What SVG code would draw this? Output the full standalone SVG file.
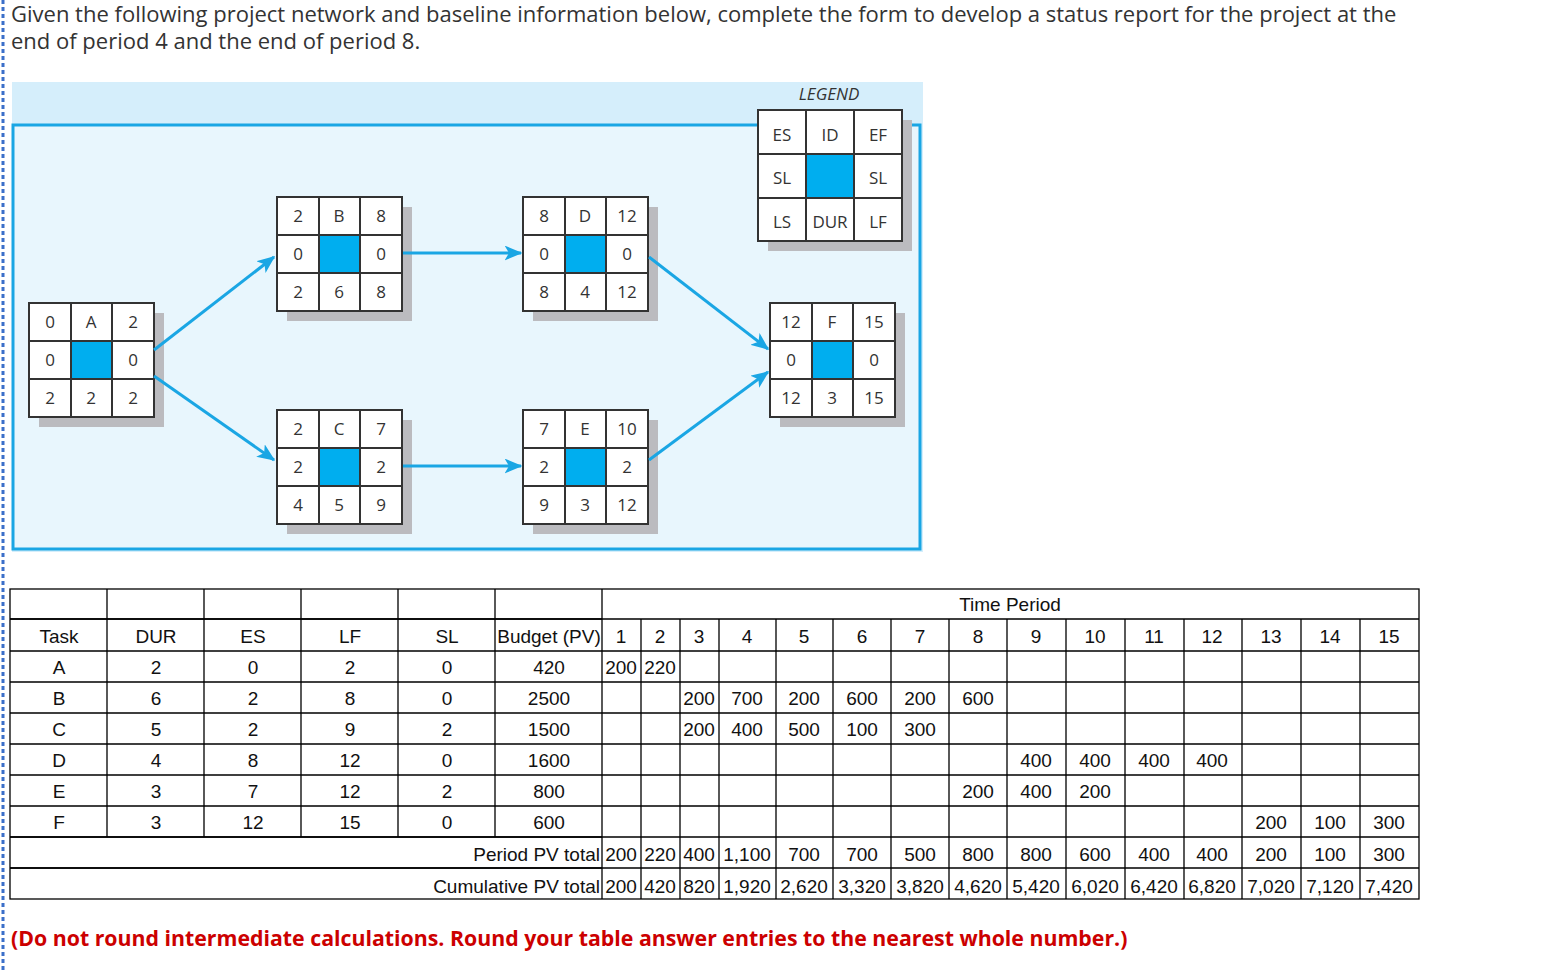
<svg xmlns="http://www.w3.org/2000/svg" width="1561" height="971" viewBox="0 0 1561 971">
<defs>
<style>
.t{font-family:"Open Sans","Liberation Sans",sans-serif;fill:#333}
.n{font-family:"Open Sans","Liberation Sans",sans-serif;font-size:17px;fill:#333;text-anchor:middle}
.c{fill:#fff;stroke:#333;stroke-width:2}
.sh{fill:#bbbbbf}
.bl{fill:#00aeef}
.ar{stroke:#1aa6e4;stroke-width:3;fill:none}
.tb{font-family:"Liberation Sans",Calibri,sans-serif;font-size:19px;fill:#111;text-anchor:middle}
.tr{font-family:"Liberation Sans",Calibri,sans-serif;font-size:19px;fill:#111;text-anchor:end}
.g{stroke:#000;stroke-width:1.3;fill:none}
</style>
<marker id="ah" viewBox="0 0 12 10" refX="11" refY="5" markerWidth="18" markerHeight="15" orient="auto" markerUnits="userSpaceOnUse">
<path d="M0,0 L12,5 L0,10 L3,5 Z" fill="#1aa6e4"/>
</marker>
</defs>
<rect width="1561" height="971" fill="#fff"/>
<line x1="3" y1="0" x2="3" y2="971" stroke="#3b6fc9" stroke-width="3" stroke-dasharray="4,3"/>
<text class="t" x="11" y="22" font-size="22">Given the following project network and baseline information below, complete the form to develop a status report for the project at the</text>
<text class="t" x="11" y="49" font-size="22">end of period 4 and the end of period 8.</text>

<rect x="12" y="82" width="911" height="470" fill="#d5eefb"/>
<rect x="13" y="125" width="907" height="424" fill="#e8f6fd" stroke="#1aa6e4" stroke-width="3"/>

<g id="legend">
<rect x="768" y="120" width="144" height="131" class="sh"/>
<rect x="758" y="110" width="144" height="131" fill="#fff" stroke="#333" stroke-width="2"/>
<rect x="806" y="154" width="48" height="44" class="bl"/>
<path d="M806,110V241M854,110V241M758,154H902M758,198H902" stroke="#333" stroke-width="2" fill="none"/>
<text class="n" x="829" y="100" font-style="italic">LEGEND</text>
<text class="n" x="782" y="141">ES</text><text class="n" x="830" y="141">ID</text><text class="n" x="878" y="141">EF</text>
<text class="n" x="782" y="184">SL</text><text class="n" x="878" y="184">SL</text>
<text class="n" x="782" y="228">LS</text><text class="n" x="830" y="228">DUR</text><text class="n" x="878" y="228">LF</text>
</g>

<g id="nodeA" transform="translate(29,303)">
<rect x="10" y="10" width="125" height="114" class="sh"/>
<rect width="125" height="114" class="c"/><rect x="42" y="38" width="41" height="38" class="bl"/>
<path d="M42,0V114M83,0V114M0,38H125M0,76H125" stroke="#333" stroke-width="2"/>
<text class="n" x="21" y="25">0</text><text class="n" x="62" y="25">A</text><text class="n" x="104" y="25">2</text>
<text class="n" x="21" y="63">0</text><text class="n" x="104" y="63">0</text>
<text class="n" x="21" y="101">2</text><text class="n" x="62" y="101">2</text><text class="n" x="104" y="101">2</text>
</g>
<g id="nodeB" transform="translate(277,197)">
<rect x="10" y="10" width="125" height="114" class="sh"/>
<rect width="125" height="114" class="c"/><rect x="42" y="38" width="41" height="38" class="bl"/>
<path d="M42,0V114M83,0V114M0,38H125M0,76H125" stroke="#333" stroke-width="2"/>
<text class="n" x="21" y="25">2</text><text class="n" x="62" y="25">B</text><text class="n" x="104" y="25">8</text>
<text class="n" x="21" y="63">0</text><text class="n" x="104" y="63">0</text>
<text class="n" x="21" y="101">2</text><text class="n" x="62" y="101">6</text><text class="n" x="104" y="101">8</text>
</g>
<g id="nodeC" transform="translate(277,410)">
<rect x="10" y="10" width="125" height="114" class="sh"/>
<rect width="125" height="114" class="c"/><rect x="42" y="38" width="41" height="38" class="bl"/>
<path d="M42,0V114M83,0V114M0,38H125M0,76H125" stroke="#333" stroke-width="2"/>
<text class="n" x="21" y="25">2</text><text class="n" x="62" y="25">C</text><text class="n" x="104" y="25">7</text>
<text class="n" x="21" y="63">2</text><text class="n" x="104" y="63">2</text>
<text class="n" x="21" y="101">4</text><text class="n" x="62" y="101">5</text><text class="n" x="104" y="101">9</text>
</g>
<g id="nodeD" transform="translate(523,197)">
<rect x="10" y="10" width="125" height="114" class="sh"/>
<rect width="125" height="114" class="c"/><rect x="42" y="38" width="41" height="38" class="bl"/>
<path d="M42,0V114M83,0V114M0,38H125M0,76H125" stroke="#333" stroke-width="2"/>
<text class="n" x="21" y="25">8</text><text class="n" x="62" y="25">D</text><text class="n" x="104" y="25">12</text>
<text class="n" x="21" y="63">0</text><text class="n" x="104" y="63">0</text>
<text class="n" x="21" y="101">8</text><text class="n" x="62" y="101">4</text><text class="n" x="104" y="101">12</text>
</g>
<g id="nodeE" transform="translate(523,410)">
<rect x="10" y="10" width="125" height="114" class="sh"/>
<rect width="125" height="114" class="c"/><rect x="42" y="38" width="41" height="38" class="bl"/>
<path d="M42,0V114M83,0V114M0,38H125M0,76H125" stroke="#333" stroke-width="2"/>
<text class="n" x="21" y="25">7</text><text class="n" x="62" y="25">E</text><text class="n" x="104" y="25">10</text>
<text class="n" x="21" y="63">2</text><text class="n" x="104" y="63">2</text>
<text class="n" x="21" y="101">9</text><text class="n" x="62" y="101">3</text><text class="n" x="104" y="101">12</text>
</g>
<g id="nodeF" transform="translate(770,303)">
<rect x="10" y="10" width="125" height="114" class="sh"/>
<rect width="125" height="114" class="c"/><rect x="42" y="38" width="41" height="38" class="bl"/>
<path d="M42,0V114M83,0V114M0,38H125M0,76H125" stroke="#333" stroke-width="2"/>
<text class="n" x="21" y="25">12</text><text class="n" x="62" y="25">F</text><text class="n" x="104" y="25">15</text>
<text class="n" x="21" y="63">0</text><text class="n" x="104" y="63">0</text>
<text class="n" x="21" y="101">12</text><text class="n" x="62" y="101">3</text><text class="n" x="104" y="101">15</text>
</g>

<g id="connectors">
<line class="ar" marker-end="url(#ah)" x1="154" y1="350" x2="274" y2="257"/>
<line class="ar" marker-end="url(#ah)" x1="154" y1="376" x2="274" y2="460"/>
<line class="ar" marker-end="url(#ah)" x1="403" y1="253" x2="521" y2="253"/>
<line class="ar" marker-end="url(#ah)" x1="403" y1="466" x2="521" y2="466"/>
<line class="ar" marker-end="url(#ah)" x1="649" y1="257" x2="768" y2="349"/>
<line class="ar" marker-end="url(#ah)" x1="649" y1="460" x2="768" y2="372"/>
</g>

<g id="table">
<rect x="10" y="589" width="1409" height="310" class="g"/>
<path class="g" d="M10,619H1419M10,651H1419M10,682H1419M10,713H1419M10,744H1419M10,775H1419M10,806H1419M10,837H1419M10,868H1419"/>
<path class="g" stroke-width="2" d="M10,619H602M10,837H602M10,868H602"/>
<path class="g" d="M107,589V837M204,589V837M301,589V837M398,589V837M495,589V837M602,589V899"/>
<path class="g" d="M641,619V899M680,619V899M719,619V899M776,619V899M833,619V899M891,619V899M949,619V899M1007,619V899M1066,619V899M1125,619V899M1184,619V899M1242,619V899M1301,619V899M1360,619V899"/>
<text class="tb" x="1010" y="611">Time Period</text>
<g>
<text class="tb" x="59" y="643">Task</text><text class="tb" x="156" y="643">DUR</text><text class="tb" x="253" y="643">ES</text><text class="tb" x="350" y="643">LF</text><text class="tb" x="447" y="643">SL</text><text class="tb" x="549" y="643">Budget (PV)</text>
<text class="tb" x="621" y="643">1</text><text class="tb" x="660" y="643">2</text><text class="tb" x="699" y="643">3</text><text class="tb" x="747" y="643">4</text><text class="tb" x="804" y="643">5</text><text class="tb" x="862" y="643">6</text><text class="tb" x="920" y="643">7</text><text class="tb" x="978" y="643">8</text><text class="tb" x="1036" y="643">9</text><text class="tb" x="1095" y="643">10</text><text class="tb" x="1154" y="643">11</text><text class="tb" x="1212" y="643">12</text><text class="tb" x="1271" y="643">13</text><text class="tb" x="1330" y="643">14</text><text class="tb" x="1389" y="643">15</text>
</g>
<g>
<text class="tb" x="59" y="674">A</text><text class="tb" x="156" y="674">2</text><text class="tb" x="253" y="674">0</text><text class="tb" x="350" y="674">2</text><text class="tb" x="447" y="674">0</text><text class="tb" x="549" y="674">420</text><text class="tb" x="621" y="674">200</text><text class="tb" x="660" y="674">220</text>
<text class="tb" x="59" y="705">B</text><text class="tb" x="156" y="705">6</text><text class="tb" x="253" y="705">2</text><text class="tb" x="350" y="705">8</text><text class="tb" x="447" y="705">0</text><text class="tb" x="549" y="705">2500</text><text class="tb" x="699" y="705">200</text><text class="tb" x="747" y="705">700</text><text class="tb" x="804" y="705">200</text><text class="tb" x="862" y="705">600</text><text class="tb" x="920" y="705">200</text><text class="tb" x="978" y="705">600</text>
<text class="tb" x="59" y="736">C</text><text class="tb" x="156" y="736">5</text><text class="tb" x="253" y="736">2</text><text class="tb" x="350" y="736">9</text><text class="tb" x="447" y="736">2</text><text class="tb" x="549" y="736">1500</text><text class="tb" x="699" y="736">200</text><text class="tb" x="747" y="736">400</text><text class="tb" x="804" y="736">500</text><text class="tb" x="862" y="736">100</text><text class="tb" x="920" y="736">300</text>
<text class="tb" x="59" y="767">D</text><text class="tb" x="156" y="767">4</text><text class="tb" x="253" y="767">8</text><text class="tb" x="350" y="767">12</text><text class="tb" x="447" y="767">0</text><text class="tb" x="549" y="767">1600</text><text class="tb" x="1036" y="767">400</text><text class="tb" x="1095" y="767">400</text><text class="tb" x="1154" y="767">400</text><text class="tb" x="1212" y="767">400</text>
<text class="tb" x="59" y="798">E</text><text class="tb" x="156" y="798">3</text><text class="tb" x="253" y="798">7</text><text class="tb" x="350" y="798">12</text><text class="tb" x="447" y="798">2</text><text class="tb" x="549" y="798">800</text><text class="tb" x="978" y="798">200</text><text class="tb" x="1036" y="798">400</text><text class="tb" x="1095" y="798">200</text>
<text class="tb" x="59" y="829">F</text><text class="tb" x="156" y="829">3</text><text class="tb" x="253" y="829">12</text><text class="tb" x="350" y="829">15</text><text class="tb" x="447" y="829">0</text><text class="tb" x="549" y="829">600</text><text class="tb" x="1271" y="829">200</text><text class="tb" x="1330" y="829">100</text><text class="tb" x="1389" y="829">300</text>
</g>
<g>
<text class="tr" x="600" y="861">Period PV total</text>
<text class="tb" x="621" y="861">200</text><text class="tb" x="660" y="861">220</text><text class="tb" x="699" y="861">400</text><text class="tb" x="747" y="861">1,100</text><text class="tb" x="804" y="861">700</text><text class="tb" x="862" y="861">700</text><text class="tb" x="920" y="861">500</text><text class="tb" x="978" y="861">800</text><text class="tb" x="1036" y="861">800</text><text class="tb" x="1095" y="861">600</text><text class="tb" x="1154" y="861">400</text><text class="tb" x="1212" y="861">400</text><text class="tb" x="1271" y="861">200</text><text class="tb" x="1330" y="861">100</text><text class="tb" x="1389" y="861">300</text>
<text class="tr" x="600" y="893">Cumulative PV total</text>
<text class="tb" x="621" y="893">200</text><text class="tb" x="660" y="893">420</text><text class="tb" x="699" y="893">820</text><text class="tb" x="747" y="893">1,920</text><text class="tb" x="804" y="893">2,620</text><text class="tb" x="862" y="893">3,320</text><text class="tb" x="920" y="893">3,820</text><text class="tb" x="978" y="893">4,620</text><text class="tb" x="1036" y="893">5,420</text><text class="tb" x="1095" y="893">6,020</text><text class="tb" x="1154" y="893">6,420</text><text class="tb" x="1212" y="893">6,820</text><text class="tb" x="1271" y="893">7,020</text><text class="tb" x="1330" y="893">7,120</text><text class="tb" x="1389" y="893">7,420</text>
</g>
</g>
<text x="11" y="946" font-family="'Open Sans','Liberation Sans',sans-serif" font-size="21.3" font-weight="bold" fill="#c00">(Do not round intermediate calculations. Round your table answer entries to the nearest whole number.)</text>
</svg>
